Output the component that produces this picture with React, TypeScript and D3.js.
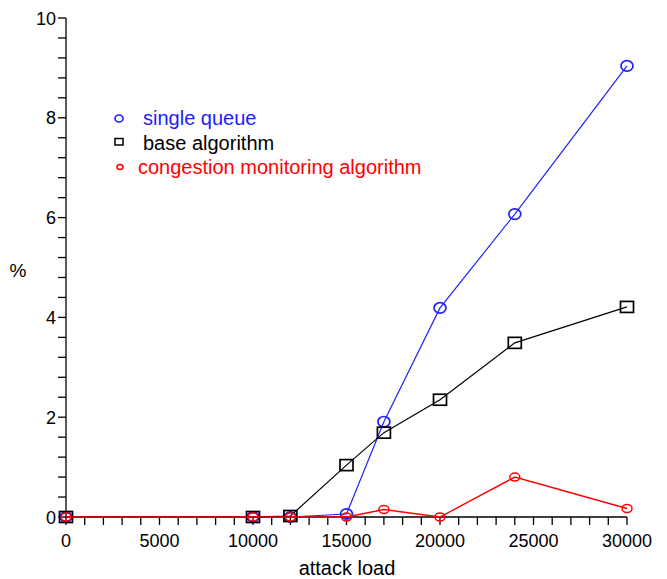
import React from "react";
import * as d3 from "d3";

const attackLoad = [0, 10000, 12000, 15000, 17000, 20000, 24000, 30000];
const singleQueue = [0, 0, 0, 0.06, 1.91, 4.19, 6.07, 9.04];
const baseAlgorithm = [0, 0, 0.02, 1.04, 1.69, 2.35, 3.49, 4.21];
const congestionMonitoring = [0, 0, 0, 0, 0.15, 0, 0.8, 0.17];
const xMajorTicks = [0, 5000, 10000, 15000, 20000, 25000, 30000];
const yMajorTicks = [0, 2, 4, 6, 8, 10];
const seriesNames = ["single queue", "base algorithm", "congestion monitoring algorithm"];

const W = 667;
const H = 579;
const FONT = "'Liberation Sans', Arial, Helvetica, sans-serif";

export default function App() {
  const x = d3.scaleLinear().domain([0, 30000]).range([66, 627]);
  const y = d3.scaleLinear().domain([0, 10]).range([517, 18]);
  const xMinor = d3.range(0, 30001, 1000);
  const yMinor = d3.range(0, 26).map((i) => i * 0.4);
  const line = d3
    .line<[number, number]>()
    .x((d) => x(d[0]))
    .y((d) => y(d[1]));
  const mk = (vals: number[]) => attackLoad.map((a, i) => [a, vals[i]] as [number, number]);
  const blue = "#2020ff";
  const red = "#ff0000";

  return (
    <svg width={W} height={H} style={{ position: "absolute", left: 0, top: 0, background: "#fff" }} fontFamily={FONT}>
      <rect width={W} height={H} fill="#fff" />
      {/* axes */}
      <line x1={x(0)} x2={x(0)} y1={y(10)} y2={y(0)} stroke="#000" strokeWidth={1.3} />
      <line x1={x(0)} x2={x(30000)} y1={y(0)} y2={y(0)} stroke="#000" strokeWidth={1.3} />
      {yMinor.map((t) => (
        <line key={"yt" + t} x1={x(0) - 8} x2={x(0)} y1={y(t)} y2={y(t)} stroke="#000" strokeWidth={1.3} />
      ))}
      {xMinor.map((t) => (
        <line key={"xt" + t} x1={x(t)} x2={x(t)} y1={y(0)} y2={y(0) + 8} stroke="#000" strokeWidth={1.3} />
      ))}
      {yMajorTicks.map((t) => (
        <text key={"yl" + t} x={x(0) - 10} y={y(t) + 6.5} textAnchor="end" fontSize={18} fill="#000">
          {t}
        </text>
      ))}
      {xMajorTicks.map((t) => (
        <text key={"xl" + t} x={x(t)} y={547} textAnchor="middle" fontSize={18} fill="#000">
          {t}
        </text>
      ))}
      <text x={347} y={575} textAnchor="middle" fontSize={20} fill="#000">
        attack load
      </text>
      <text x={18} y={277} textAnchor="middle" fontSize={19} fill="#000">
        %
      </text>

      {/* single queue */}
      <path d={line(mk(singleQueue)) || ""} fill="none" stroke={blue} strokeWidth={1.2} />
      {mk(singleQueue).map((d, i) => (
        <ellipse key={"b" + i} cx={x(d[0])} cy={y(d[1])} rx={6} ry={5.2} fill="none" stroke={blue} strokeWidth={1.7} />
      ))}
      {/* base algorithm */}
      <path d={line(mk(baseAlgorithm)) || ""} fill="none" stroke="#000" strokeWidth={1.2} />
      {mk(baseAlgorithm).map((d, i) => (
        <rect key={"k" + i} x={x(d[0]) - 6.5} y={y(d[1]) - 5.5} width={13} height={11} fill="none" stroke="#000" strokeWidth={1.7} />
      ))}
      {/* congestion monitoring */}
      <path d={line(mk(congestionMonitoring)) || ""} fill="none" stroke={red} strokeWidth={1.4} />
      {mk(congestionMonitoring).map((d, i) => (
        <ellipse key={"r" + i} cx={x(d[0])} cy={y(d[1])} rx={5} ry={4} fill="none" stroke={red} strokeWidth={1.5} />
      ))}

      {/* legend */}
      <ellipse cx={119} cy={118.5} rx={4} ry={3.5} fill="none" stroke={blue} strokeWidth={1.7} />
      <text x={143} y={125} fontSize={20} fill={blue}>
        {seriesNames[0]}
      </text>
      <rect x={115} y={138.5} width={8} height={6.5} fill="none" stroke="#000" strokeWidth={1.5} />
      <text x={143} y={150} fontSize={20} fill="#000">
        {seriesNames[1]}
      </text>
      <ellipse cx={120} cy={167} rx={3} ry={2.5} fill="none" stroke={red} strokeWidth={1.5} />
      <text x={138} y={174} fontSize={20} fill={red}>
        {seriesNames[2]}
      </text>
    </svg>
  );
}
